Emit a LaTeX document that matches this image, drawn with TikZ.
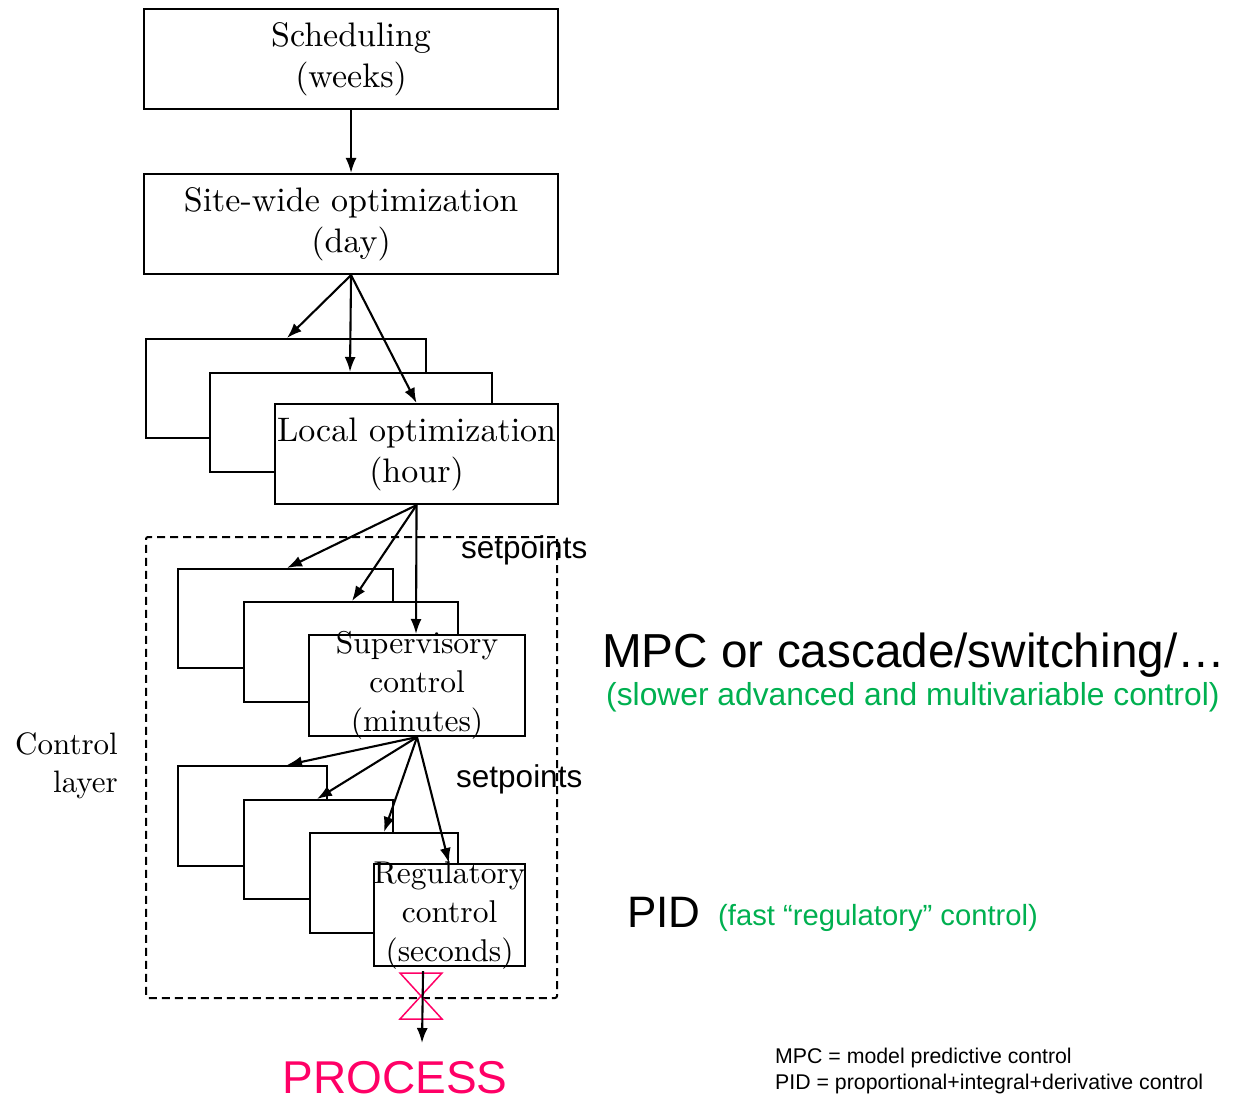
\documentclass[tikz,border=0pt]{standalone}
\usepackage{fontspec}
\newfontfamily\arial{Liberation Sans}
\newfontfamily\cmten{lmroman10-regular.otf}
\usetikzlibrary{arrows.meta,calc}
\definecolor{pgreen}{HTML}{00B050}
\definecolor{ppink}{HTML}{FF0066}
\begin{document}
\begin{tikzpicture}[x=1pt,y=-1pt,
  box/.style={draw, fill=white, line width=2.1pt, inner sep=0pt, anchor=north west},
  lbl/.style={font=\cmten\fontsize{34}{41}\selectfont, align=center, inner sep=0pt},
  lblthree/.style={font=\cmten\fontsize{31.5}{39}\selectfont, align=center, inner sep=0pt},
  arr/.style={line width=2.1pt, -{Latex[length=15pt,width=11pt]}},
  sans/.style={inner sep=0pt, anchor=base west}
]
\useasboundingbox (0,0) rectangle (1234,1102);

% top boxes
\node[box, minimum width=414pt, minimum height=100pt] (sched) at (143,8) {};
\node[lbl] (schedT) at (sched.center) {Scheduling\\(weeks)};
\node[box, minimum width=414pt, minimum height=100pt] (site) at (143,173) {};
\node[lbl] (siteT) at (site.center) {Site-wide optimization\\(day)};
\draw[arr] (sched.south) -- (site.north);

% local optimization stack
\node[box, minimum width=280pt, minimum height=99pt] (loc1) at (145,338) {};
\node[box, minimum width=282pt, minimum height=99pt] (loc2) at (209,372) {};
\node[box, minimum width=283pt, minimum height=100pt] (loc3) at (274,403) {};
\node[lbl] (loc3T) at (loc3.center) {Local optimization\\(hour)};
\draw[arr] (site.south) -- ([xshift=142pt]loc1.north west);
\draw[arr] (site.south) -- ([xshift=141pt]loc2.north west);
\draw[arr] (site.south) -- (loc3.north);

% control layer
\node[draw, dash pattern=on 8pt off 5pt, line width=2pt, rounded corners=2pt,
      minimum width=411pt, minimum height=461pt, anchor=north west, inner sep=0pt] (ctrl) at (145,536) {};
\node[font=\cmten\fontsize{31}{38}\selectfont, align=right, inner sep=0pt, anchor=north east] (ctrlT) at (118,732) {Control\\layer};

% supervisory stack
\node[box, minimum width=215pt, minimum height=99pt] (sup1) at (177,568) {};
\node[box, minimum width=214pt, minimum height=100pt] (sup2) at (243,601) {};
\node[box, minimum width=216pt, minimum height=101pt] (sup3) at (308,634) {};
\node[lblthree] (sup3T) at (sup3.center) {Supervisory\\control\\(minutes)};
\draw[arr] (loc3.south) -- ([xshift=110pt]sup1.north west);
\draw[arr] (loc3.south) -- ([xshift=109pt]sup2.north west);
\draw[arr] (loc3.south) -- ([xshift=108pt]sup3.north west);
\node[sans, font=\arial\fontsize{31.5}{36}\selectfont] (sp1) at (461,558) {setpoints};

% regulatory stack
\node[box, minimum width=149pt, minimum height=100pt] (reg1) at (177,765) {};
\node[box, minimum width=149pt, minimum height=99pt] (reg2) at (243,799) {};
\node[box, minimum width=148pt, minimum height=100pt] (reg3) at (309,832) {};
\node[box, minimum width=151pt, minimum height=102pt] (reg4) at (373,863) {};
\node[lblthree] (reg4T) at (reg4.center) {Regulatory\\control\\(seconds)};
\draw[arr] (sup3.south) -- ([xshift=110pt]reg1.north west);
\draw[arr] (sup3.south) -- ([xshift=74pt]reg2.north west);
\draw[arr] (sup3.south) -- ([xshift=75pt]reg3.north west);
\draw[arr] (sup3.south) -- ([xshift=76pt]reg4.north west);
\node[sans, font=\arial\fontsize{31.5}{36}\selectfont] (sp2) at (456,787) {setpoints};

% valve and process
\coordinate (valve) at (421,996);
\coordinate (procin) at (422,1043);
\draw[ppink, line width=1.5pt] ($(valve)+(-21,-23)$) -- ($(valve)+(21,-23)$) -- ($(valve)+(-21,23)$) -- ($(valve)+(21,23)$) -- cycle;
\draw[arr] ([xshift=-26.5pt,yshift=-4pt]reg4.south) -- (procin);
\node[inner sep=0pt, anchor=base, text=ppink, font=\arial\fontsize{46}{50}\selectfont] (proc) at (395,1093) {PROCESS};

% right-hand annotations
\node[sans, font=\arial\fontsize{47.7}{52}\selectfont] (mpc) at (602,667) {MPC or cascade/switching/…};
\node[sans, text=pgreen, font=\arial\fontsize{31.8}{36}\selectfont] (mpcG) at (606,705) {(slower advanced and multivariable control)};
\node[sans, font=\arial\fontsize{44}{50}\selectfont] (pid) at (627,927) {PID};
\node[sans, text=pgreen, font=\arial\fontsize{29.2}{34}\selectfont] (pidG) at (718,925) {(fast “regulatory” control)};
\node[sans, font=\arial\fontsize{21.3}{26}\selectfont] (fn1) at (775,1063) {MPC = model predictive control};
\node[sans, font=\arial\fontsize{21.3}{26}\selectfont] (fn2) at (775,1089) {PID = proportional+integral+derivative control};
\end{tikzpicture}
\end{document}
